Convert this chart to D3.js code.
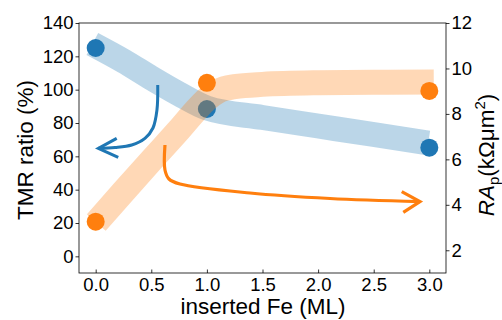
<!DOCTYPE html>
<html>
<head>
<meta charset="utf-8">
<script src="https://cdn.jsdelivr.net/npm/d3@7"></script>
<style>
  html, body { margin: 0; padding: 0; background: #fff; }
  svg { display: block; }
  text { font-family: "Liberation Sans", Arial, Helvetica, sans-serif; fill: #000; }
</style>
</head>
<body>
<svg id="chart" width="502" height="320"></svg>
<script>
// ---------- data ----------
const feML = [0, 1, 3];                 // inserted Fe (ML)
const tmrRatio = [125, 88.4, 65.2];     // TMR ratio (%)  (left axis)
const raP = [3.26, 9.37, 9.01];         // RA_p (kΩμm²)   (right axis)

const xTicks = [0, 0.5, 1, 1.5, 2, 2.5, 3];
const leftTicks = [0, 20, 40, 60, 80, 100, 120, 140];
const rightTicks = [2, 4, 6, 8, 10, 12];

// guide bands (hand-drawn trend curves), in data units
const tmrBandX = [-0.03, 0.25, 0.5, 0.75, 1.0, 1.5, 2.0, 2.5, 2.99];
const tmrBandY = [127.4, 117.2, 107, 97.4, 89.0, 83.3, 78.2, 73.1, 68.0];
const raBandX = [0.005, 0.25, 0.5, 0.75, 0.9, 1.0, 1.1, 1.25, 1.5, 2.0, 2.5, 3.04];
const raBandY = [3.22, 4.58, 5.95, 7.30, 8.15, 8.65, 9.0, 9.2, 9.3, 9.37, 9.39, 9.40];

// annotation arrows, in data units
const blueArrowX = [0.558, 0.551, 0.515, 0.443, 0.324, 0.174, 0.024];
const blueArrowY = [102.8, 87.8, 77.0, 70.8, 66.8, 65.3, 64.8];
const blueHeadX = [0.189, 0.024, 0.203];
const blueHeadY = [70.8, 64.8, 59.4];
const orangeArrowX = [0.623, 0.623, 0.659, 0.758, 1.388, 2.107, 2.916];
const orangeArrowY = [6.632, 5.532, 5.136, 4.916, 4.52, 4.278, 4.137];
const orangeHeadX = [2.752, 2.916, 2.766];
const orangeHeadY = [4.577, 4.137, 3.671];

// ---------- layout ----------
const svg = d3.select("#chart");
const L = 79, R = 446, T = 23, B = 273;
const blue = "#1f77b4", orange = "#ff7f0e";

const x = d3.scaleLinear().domain([-0.15, 3.15]).range([L, R]);
const yL = d3.scaleLinear().domain([-10, 140]).range([B, T]);
const yR = d3.scaleLinear().domain([1, 12]).range([B, T]);

const g = svg.append("g");

// bands
const bandLine = (ys) => d3.line().x(d => x(d[0])).y(d => ys(d[1])).curve(d3.curveMonotoneX);
const tmrBand = tmrBandX.map((v, i) => [v, tmrBandY[i]]);
const raBand = raBandX.map((v, i) => [v, raBandY[i]]);

g.append("path").attr("d", bandLine(yL)(tmrBand))
  .attr("fill", "none").attr("stroke", blue).attr("stroke-opacity", 0.3)
  .attr("stroke-width", 25).attr("stroke-linecap", "butt");

g.selectAll("circle.tmr").data(feML).join("circle").attr("class", "tmr")
  .attr("cx", d => x(d)).attr("cy", (d, i) => yL(tmrRatio[i])).attr("r", 9)
  .attr("fill", blue);

g.append("path").attr("d", bandLine(yR)(raBand))
  .attr("fill", "none").attr("stroke", orange).attr("stroke-opacity", 0.3)
  .attr("stroke-width", 25).attr("stroke-linecap", "butt");

g.selectAll("circle.ra").data(feML).join("circle").attr("class", "ra")
  .attr("cx", d => x(d)).attr("cy", (d, i) => yR(raP[i])).attr("r", 9)
  .attr("fill", orange);

// arrows
function arrow(xs, ys, hx, hy, yS, color, w) {
  const pts = xs.map((v, i) => [x(v), yS(ys[i])]);
  g.append("path").attr("d", d3.line().curve(d3.curveCatmullRom.alpha(0.5))(pts))
    .attr("fill", "none").attr("stroke", color).attr("stroke-width", w)
    .attr("stroke-linecap", "butt");
  const hp = hx.map((v, i) => [x(v), yS(hy[i])]);
  g.append("path").attr("d", d3.line()(hp))
    .attr("fill", "none").attr("stroke", color).attr("stroke-width", w)
    .attr("stroke-linejoin", "miter").attr("stroke-linecap", "butt");
}
arrow(blueArrowX, blueArrowY, blueHeadX, blueHeadY, yL, blue, 3);
arrow(orangeArrowX, orangeArrowY, orangeHeadX, orangeHeadY, yR, orange, 3.2);

// axes
const fs = "18.5px";
const axL = g.append("g").attr("transform", `translate(${L},0)`)
  .call(d3.axisLeft(yL).tickValues(leftTicks).tickSize(3.5).tickPadding(2).tickFormat(d3.format("d")));
const axR = g.append("g").attr("transform", `translate(${R},0)`)
  .call(d3.axisRight(yR).tickValues(rightTicks).tickSize(3.5).tickPadding(2).tickFormat(d3.format("d")));
const axB = g.append("g").attr("transform", `translate(0,${B})`)
  .call(d3.axisBottom(x).tickValues(xTicks).tickSizeInner(-3.5).tickSizeOuter(0).tickPadding(5).tickFormat(d3.format(".1f")));
[axL, axR, axB].forEach(a => {
  a.selectAll("text").style("font-size", fs).style("font-family", '"Liberation Sans", Arial, sans-serif').attr("fill", "#000");
  a.selectAll("line").attr("stroke", "#000").attr("stroke-width", 0.8);
  a.select(".domain").remove();
});
// frame
g.append("rect").attr("x", L).attr("y", T).attr("width", R - L).attr("height", B - T)
  .attr("fill", "none").attr("stroke", "#000").attr("stroke-width", 0.8);

// axis labels
svg.append("text").attr("transform", `translate(33,150) rotate(-90)`)
  .attr("text-anchor", "middle").style("font-size", "22.5px").text("TMR ratio (%)");
svg.append("text").attr("x", (L + R) / 2 + 0.5).attr("y", 314)
  .attr("text-anchor", "middle").style("font-size", "22.5px").text("inserted Fe (ML)");

const rl = svg.append("text").attr("transform", `translate(494,155) rotate(-90)`)
  .attr("text-anchor", "middle").style("font-size", "22.5px");
rl.append("tspan").style("font-style", "italic").text("RA");
rl.append("tspan").attr("dy", 5).style("font-size", "15px").text("p");
rl.append("tspan").attr("dy", -5).text("(kΩμm");
rl.append("tspan").attr("dy", -9).style("font-size", "15px").text("2");
rl.append("tspan").attr("dy", 9).text(")");
</script>
</body>
</html>
